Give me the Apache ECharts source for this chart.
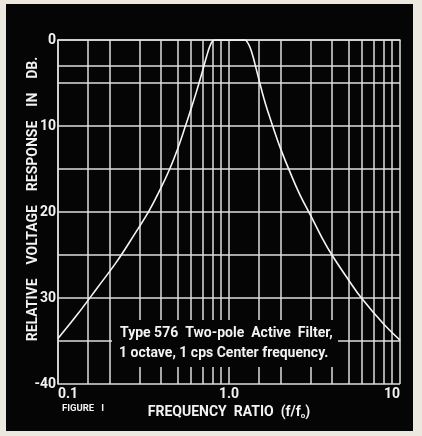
<!DOCTYPE html>
<html>
<head>
<meta charset="utf-8">
<script src="https://cdn.jsdelivr.net/npm/echarts@6/dist/echarts.min.js"></script>
<style>
  html, body { margin: 0; padding: 0; background: #ece8df; }
  #wrap { position: relative; width: 422px; height: 436px; overflow: hidden; background: #ece8df; }
  #panel { position: absolute; left: 6px; top: 4px; width: 407px; height: 427px; background: #050505; }
  #chart { position: absolute; left: 0; top: 0; width: 422px; height: 436px; }
</style>
</head>
<body>
<div id="wrap"><div id="panel"></div><div id="chart"></div></div>
<script>
// Frequency ratio f/f0 (log axis) and relative response in dB (0 at top)
const freq   = [0.1, 0.13, 0.17, 0.22, 0.28, 0.34, 0.40, 0.45, 0.50, 0.55, 0.60, 0.65, 0.70, 0.74, 0.77, 0.80, 0.83, 1.0, 1.24, 1.28, 1.33, 1.38, 1.44, 1.5, 1.6, 1.7, 1.8, 2.0, 2.3, 2.6, 3.0, 3.5, 4.0, 5.0, 6.0, 8.0, 10];
const respDb = [34.7, 31.9, 28.8, 25.8, 22.6, 19.9, 17.2, 15.0, 12.7, 10.3, 8.0, 5.8, 3.6, 1.9, 0.8, 0.15, 0.0, 0.0, 0.0, 0.25, 0.9, 1.9, 3.3, 4.7, 6.8, 8.5, 10.0, 12.6, 15.6, 18.0, 20.4, 23.0, 25.0, 27.9, 30.1, 33.0, 34.9];

// Extra grid lines of the printed log-paper
const minorFreqs = [0.15, 0.2, 0.3, 0.4, 0.5, 0.6, 0.7, 0.8, 0.9, 1.5, 2, 3, 4, 5, 6, 7, 8, 9];
const extraDbLines = [3];

// Tick labels
const xTickValues = [0.1, 1, 10];
const xTickLabels = ['0.1', '1.0', '10'];
const yTickValues = [0, 10, 20, 30, 40];
const yTickLabels = ['0', '10', '20', '30', '-40'];

const yTitle = 'RELATIVE    VOLTAGE    RESPONSE    IN    DB.';
const xTitle = 'FREQUENCY  RATIO  (f/f{s|o})';
const noteLine1 = 'Type 576  Two-pole  Active  Filter,';
const noteLine2 = '1 octave, 1 cps Center frequency.';
const figLabel = 'FIGURE   I';

const FONT = '"Roboto", "Liberation Sans", sans-serif';
const GRID = '#dedede';
const INK = '#f2f2f2';

const chart = echarts.init(document.getElementById('chart'), null, { renderer: 'canvas' });

const markData = minorFreqs.map(v => ({ xAxis: v }))
  .concat(extraDbLines.map(v => ({ yAxis: v })));

chart.setOption({
  backgroundColor: 'transparent',
  animation: false,
  grid: { left: 58, top: 40, width: 342, height: 344, containLabel: false },
  xAxis: {
    type: 'log', logBase: 10, min: 0.1, max: 10,
    axisLine: { show: true, lineStyle: { color: GRID, width: 1.5 } },
    axisTick: { show: false },
    splitLine: { show: true, lineStyle: { color: GRID, width: 1.5 } },
    minorTick: { show: false },
    axisLabel: {
      color: INK, fontFamily: FONT, fontWeight: 'bold', fontSize: 14, margin: 3,
      alignMinLabel: 'left', alignMaxLabel: 'right',
      formatter: v => {
        const i = xTickValues.findIndex(t => Math.abs(t - v) < 1e-9);
        return i >= 0 ? xTickLabels[i] : '';
      }
    },
    name: xTitle,
    nameLocation: 'middle', nameGap: 18,
    nameTextStyle: {
      color: INK, fontFamily: FONT, fontWeight: 'bold', fontSize: 14,
      rich: { s: { fontSize: 8, fontWeight: 'bold', fontFamily: FONT, color: INK, verticalAlign: 'bottom', padding: [6, 0, 0, 0] } }
    }
  },
  yAxis: {
    type: 'value', inverse: true, min: 0, max: 40, interval: 5,
    axisLine: { show: true, lineStyle: { color: GRID, width: 1.5 } },
    axisTick: { show: false },
    splitLine: { show: true, lineStyle: { color: GRID, width: 1.5 } },
    axisLabel: {
      color: INK, fontFamily: FONT, fontWeight: 'bold', fontSize: 14, margin: 2,
      formatter: v => {
        const i = yTickValues.indexOf(v);
        return i >= 0 ? yTickLabels[i] : '';
      }
    }
  },
  series: [{
    type: 'line',
    data: freq.map((f, i) => [f, respDb[i]]),
    showSymbol: false,
    smooth: 0.4,
    lineStyle: { color: '#f4f4f4', width: 1.6 },
    z: 5,
    markLine: {
      silent: true, symbol: 'none', label: { show: false },
      lineStyle: { type: 'solid', color: GRID, width: 1.5 },
      data: markData,
      animation: false
    }
  }],
  graphic: [
    { type: 'text', z: 101, x: 33, y: 199, rotation: Math.PI / 2,
      style: { text: yTitle, fill: INK, font: 'bold 14px ' + FONT, align: 'center', verticalAlign: 'middle' } },
    { type: 'rect', z: 100, shape: { x: 112, y: 320, width: 226, height: 47 }, style: { fill: '#050505' } },
    { type: 'text', z: 101, x: 120, y: 333, style: { text: noteLine1, fill: INK, font: 'bold 14px ' + FONT, verticalAlign: 'middle' } },
    { type: 'text', z: 101, x: 119, y: 353, style: { text: noteLine2, fill: INK, font: 'bold 14px ' + FONT, verticalAlign: 'middle' } },
    { type: 'text', z: 101, x: 62, y: 409, style: { text: figLabel, fill: INK, font: 'bold 9.5px ' + FONT, verticalAlign: 'middle' } }
  ]
});
</script>
</body>
</html>
